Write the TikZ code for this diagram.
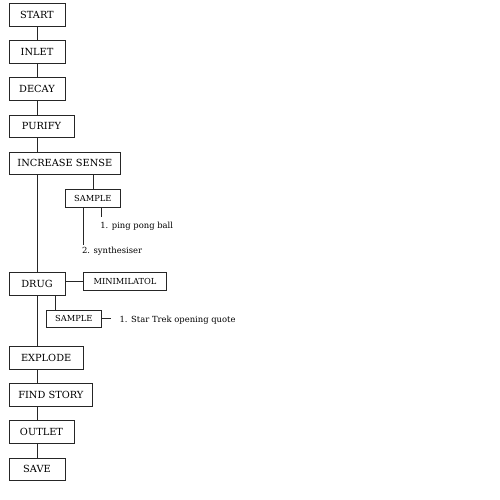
\documentclass[tikz,border=0pt]{standalone}
\usepackage{fontspec}
\setmainfont{DejaVu Serif}
\usetikzlibrary{calc}
\begin{document}
\begin{tikzpicture}[x=1pt,y=-1pt,
  line width=0.7pt, draw=black!85,
  box/.style={draw=black!85, inner sep=0pt, minimum height=22.6pt, font=\fontsize{9.8}{12}\selectfont},
  sbox/.style={draw=black!85, inner sep=0pt, minimum height=18pt, font=\fontsize{8.3}{10}\selectfont},
  lbl/.style={inner sep=0pt, anchor=west, font=\fontsize{8.4}{10}\selectfont}]
\useasboundingbox (0,0) rectangle (500,500);
\node[box, minimum width=56pt] (start) at (37,15) {START};
\node[box, minimum width=56pt] (inlet) at (37,52) {INLET};
\node[box, minimum width=56pt] (decay) at (37,89) {DECAY};
\node[box, minimum width=65pt] (purify) at (41.5,126.2) {PURIFY};
\node[box, minimum width=111.7pt] (incsense) at (64.85,163.2) {INCREASE SENSE};
\node[sbox, minimum width=55.7pt] (sample1) at (92.85,198.3) {SAMPLE};
\node[lbl] (ping) at (100,226.7) {1. ping pong ball};
\node[lbl] (synth) at (81.7,251) {2. synthesiser};
\node[box, minimum width=56pt] (drug) at (37,283.7) {DRUG};
\node[sbox, minimum width=83.4pt, minimum height=18.4pt] (mini) at (125,281.5) {MINIMILATOL};
\node[sbox, minimum width=55.7pt, minimum height=17.7pt] (sample2) at (73.85,318.85) {SAMPLE};
\node[lbl] (star) at (119.3,320) {1. Star Trek opening quote};
\node[box, minimum width=74.3pt] (explode) at (46.15,358) {EXPLODE};
\node[box, minimum width=83.7pt, minimum height=23.4pt] (findstory) at (50.85,395) {FIND STORY};
\node[box, minimum width=65pt] (outlet) at (41.5,432) {OUTLET};
\node[box, minimum width=56pt] (save) at (37,469.2) {SAVE};
% spine
\draw (start.south) -- (inlet.north);
\draw (inlet.south) -- (decay.north);
\draw (decay.south) -- (decay.south |- purify.north);
\draw (purify.south -| start.south) -- (incsense.north -| start.south);
\draw (incsense.south -| start.south) -- (drug.north);
\draw (drug.south) -- (explode.north -| drug.south);
\draw (explode.south -| start.south) -- (findstory.north -| start.south);
\draw (findstory.south -| start.south) -- (outlet.north -| start.south);
\draw (outlet.south -| start.south) -- (save.north);
% branches
\draw (sample1.north) -- (sample1.north |- incsense.south);
\coordinate (p1) at (101.7,216.7);
\coordinate (p2) at (83.3,245);
\draw (p1 |- sample1.south) -- (p1);
\draw (p2 |- sample1.south) -- (p2);
\draw (mini.west) -- (mini.west -| drug.east);
\draw ([xshift=-18.5pt]sample2.north) -- ([xshift=-18.5pt]sample2.north |- drug.south);
\coordinate (q) at (110.7,318.3);
\draw (sample2.east |- q) -- (q);
\end{tikzpicture}
\end{document}
